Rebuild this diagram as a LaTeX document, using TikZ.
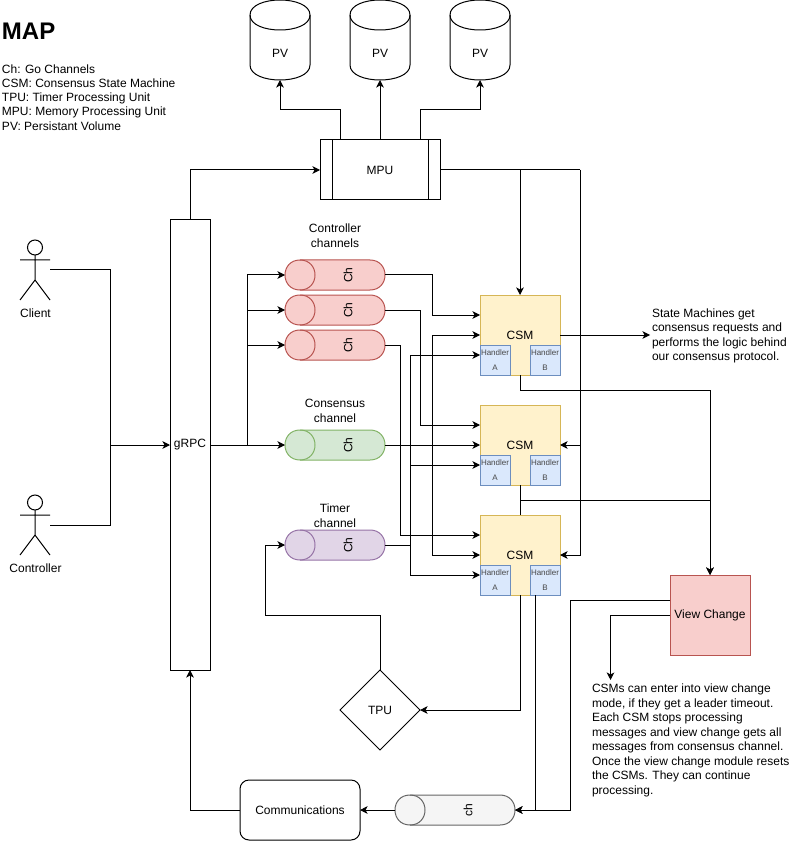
\documentclass[tikz,border=0pt]{standalone}
\usepackage{fontspec}
\setmainfont{Liberation Sans}
\usetikzlibrary{calc,arrows.meta,shapes.geometric}
\newdimen\pxu \pxu=0.75pt
\definecolor{redfill}{HTML}{F8CECC}\definecolor{redline}{HTML}{B85450}
\definecolor{greenfill}{HTML}{D5E8D4}\definecolor{greenline}{HTML}{82B366}
\definecolor{purplefill}{HTML}{E1D5E7}\definecolor{purpleline}{HTML}{9673A6}
\definecolor{greyfill}{HTML}{F5F5F5}\definecolor{greyline}{HTML}{666666}
\definecolor{csmfill}{HTML}{FFF2CC}\definecolor{csmline}{HTML}{D6B656}
\definecolor{hfill}{HTML}{DAE8FC}\definecolor{hline}{HTML}{6C8EBF}
\tikzset{
  every node/.style={inner sep=0pt,outer sep=0pt,font=\fontsize{9}{10.8}\selectfont},
  line/.style={line width=\pxu,draw=black},
  conn/.style={line,-{Stealth[length=5.6pt,width=5.6pt,inset=1.4pt]}},
  hollow/.style={rectangle},
  csmbox/.style={rectangle,line width=\pxu,draw=csmline,fill=csmfill,minimum width=80\pxu,minimum height=80\pxu},
  handlerbox/.style={rectangle,line width=\pxu,draw=hline,fill=hfill,minimum width=30\pxu,minimum height=30\pxu,
     align=center,text=black!72,font=\fontsize{6}{11.25}\selectfont},
  lbl/.style={align=center,font=\fontsize{9}{11.25}\selectfont},
  note/.style={align=left,font=\fontsize{9}{10.8}\selectfont},
}
\newcommand\pvcyl[2]{%
  \node[hollow,minimum width=60\pxu,minimum height=80\pxu] (#1) at (#2) {};
  \begin{scope}[shift={(#1.north west)}]
    \draw[line] (0,15) .. controls (0,-5) and (60,-5) .. (60,15) -- (60,65)
       .. controls (60,85) and (0,85) .. (0,65) -- cycle;
    \draw[line] (0,15) .. controls (0,35) and (60,35) .. (60,15);
  \end{scope}
  \node (#1t) at ($(#1.center)+(0,13)$) {PV};}
% name, centre, width, fill, stroke, text
\newcommand\chanpill[6]{%
  \node[hollow,minimum width=#3\pxu,minimum height=30\pxu] (#1) at (#2) {};
  \begin{scope}[shift={(#1.north west)}]
    \draw[line,draw=#5,fill=#4] (15,0) .. controls (-5,0) and (-5,30) .. (15,30) -- ({#3-15},30)
       .. controls ({#3+5},30) and ({#3+5},0) .. ({#3-15},0) -- cycle;
    \draw[line,draw=#5] (15,0) .. controls (35,0) and (35,30) .. (15,30);
  \end{scope}
  \node[rotate=90] (#1t) at ($(#1.center)+(13,0)$) {#6};}
% name, centre
\newcommand\actor[2]{%
  \node[hollow,minimum width=30\pxu,minimum height=60\pxu] (#1) at (#2) {};
  \begin{scope}[shift={(#1.north west)}]
    \draw[line] (15,7.5) circle (7.5);
    \draw[line] (15,15) -- (15,40) (0,20) -- (30,20) (0,60) -- (15,40) -- (30,60);
  \end{scope}}
% csm name, handler a, handler b, centre
\newcommand\csmset[4]{%
  \node[csmbox] (#1) at (#4) {CSM};
  \node[handlerbox] (#2) at ($(#1.south west)+(15,-15)$) {\raisebox{-1.2pt}{Handler}\\\raisebox{-1.2pt}{A}};
  \node[handlerbox] (#3) at ($(#1.south east)+(-15,-15)$) {\raisebox{-1.2pt}{Handler}\\\raisebox{-1.2pt}{B}};}
\begin{document}
\begin{tikzpicture}[x=\pxu,y=-\pxu]
\useasboundingbox (0,0) rectangle (800,841);

% legend
\node[anchor=west,font=\fontsize{18}{21}\bfseries\selectfont] (title) at (2,31) {MAP};
\node[anchor=west,align=left,font=\fontsize{9}{10.65}\selectfont] (legend) at (2,97.5)
  {Ch: Go Channels\\CSM: Consensus State Machine\\TPU: Timer Processing Unit\\MPU: Memory Processing Unit\\PV: Persistant Volume};

% persistent volumes
\pvcyl{pva}{280,40}
\pvcyl{pvb}{380,40}
\pvcyl{pvc}{480,40}

% MPU
\node[line,rectangle,minimum width=120\pxu,minimum height=60\pxu] (mpu) at (380,170) {MPU};
\draw[line] ($(mpu.north west)+(12,0)$) -- ($(mpu.south west)+(12,0)$);
\draw[line] ($(mpu.north east)+(-12,0)$) -- ($(mpu.south east)+(-12,0)$);

% gRPC
\node[line,rectangle,minimum width=40\pxu,minimum height=450\pxu] (grpc) at (190,445) {gRPC};

% actors
\actor{client}{35,270}
\node (clientl) at (35.5,313.5) {Client};
\actor{ctrl}{35,525}
\node (ctrll) at (35.5,568.5) {Controller};

% channel labels
\node[lbl] (lblctrl) at (335,235.5) {Controller\\channels};
\node[lbl] (lblcons) at (335,410.5) {Consensus\\channel};
\node[lbl] (lbltime) at (335,515.5) {Timer\\channel};

% channels
\chanpill{reda}{335,275}{100}{redfill}{redline}{Ch}
\chanpill{redb}{335,310}{100}{redfill}{redline}{Ch}
\chanpill{redc}{335,345}{100}{redfill}{redline}{Ch}
\chanpill{green}{335,445}{100}{greenfill}{greenline}{Ch}
\chanpill{purple}{335,545}{100}{purplefill}{purpleline}{Ch}
\chanpill{grey}{455,810}{120}{greyfill}{greyline}{ch}

% state machines
\csmset{csma}{haa}{hba}{520,335}
\csmset{csmb}{hab}{hbb}{520,445}
\csmset{csmc}{hac}{hbc}{520,555}

% other boxes
\node[rectangle,line width=\pxu,draw=redline,fill=redfill,minimum width=80\pxu,minimum height=80\pxu] (vc) at (710,615) {View Change};
\node[diamond,line,aspect=1,minimum width=80\pxu,minimum height=80\pxu] (tpu) at (380,710) {TPU};
\node[line,rectangle,rounded corners=9\pxu,minimum width=120\pxu,minimum height=60\pxu] (comm) at (300,810) {Communications};

% notes
\node[note,anchor=west,inner sep=2\pxu] (smnote) at (650,336)
  {State Machines get\\consensus requests and\\performs the logic behind\\our consensus protocol.};
\node[anchor=west,align=left,font=\fontsize{9}{10.9}\selectfont] (vcnote) at (592,740.5)
  {CSMs can enter into view change\\mode, if they get a leader timeout.\\Each CSM stops processing\\messages and view change gets all\\messages from consensus channel.\\Once the view change module resets\\the CSMs. They can continue\\processing.};

% helper coordinates
\coordinate (busg) at (247.5,445);
\coordinate (busc) at (110,445);
\coordinate (busa) at (432.5,445);
\coordinate (busb) at (420,310);
\coordinate (busd) at (400,345);
\coordinate (buse) at (410,545);
\coordinate (busr) at (580,170);
\coordinate (bust) at (265,615);
\coordinate (vcleft) at ($(vc.west)+(0,-15)$);
\coordinate (vcbus) at (570,600);
\coordinate (vcdrop) at (610.5,680);
\coordinate (hbout) at ($(hbc.south)+(-10,0)$);
\coordinate (aone) at ($(csma.west)+(0,-20)$);
\coordinate (atwo) at ($(csmb.west)+(0,-20)$);
\coordinate (athree) at ($(csmc.west)+(0,-20)$);
\coordinate (cone) at ($(csma.west)+(0,20)$);
\coordinate (ctwo) at ($(csmb.west)+(0,20)$);
\coordinate (cthree) at ($(csmc.west)+(0,20)$);

% MPU to volumes
\draw[conn] ($(mpu.north)+(-40,0)$) |- ($(pva.south)+(0,30)$) -- (pva.south);
\draw[conn] (mpu.north) -- (pvb.south);
\draw[conn] ($(mpu.north)+(40,0)$) |- ($(pvc.south)+(0,30)$) -- (pvc.south);

% actors to gRPC
\draw[line] (client.east) -| (busc);
\draw[line] (ctrl.east) -| (busc);
\draw[conn] (busc) -- (grpc.west);

% gRPC
\draw[conn] (grpc.north) |- (mpu.west);
\draw[conn] (grpc.east) -- (green.west);
\draw[conn] (busg) |- (reda.west);
\draw[conn] (busg) |- (redb.west);
\draw[conn] (busg) |- (redc.west);

% MPU to state machines
\draw[conn] (mpu.east) -| (csma.north);
\draw[line] (mpu.east) -- (busr);
\draw[conn] (busr) |- (csmb.east);
\draw[conn] (busr) |- (csmc.east);

% controller channels
\draw[conn] (reda.east) -- (busa |- reda.east) |- (aone);
\draw[conn] (redb.east) -- (busb) |- (atwo);
\draw[conn] (redc.east) -- (busd) |- (athree);

% consensus channel
\draw[conn] (green.east) -- (csmb.west);
\draw[conn] (busa) |- (csma.west);
\draw[conn] (busa) |- (csmc.west);

% timer channel
\draw[conn] (purple.east) -- (buse) |- (cone);
\draw[conn] (buse) |- (ctwo);
\draw[conn] (buse) |- (cthree);

% view change
\draw[conn] (csma.south) -- ++(0,15) -| (vc.north);
\draw[line] (csmb.south) -- (csmc.north);
\draw[conn] ($(csmc.north)+(0,-15)$) -| (vc.north);
\draw[conn] (vc.west) -| (vcdrop);
\draw[conn] (vcleft) -- (vcbus) |- (grey.east);

% state machine note
\draw[conn] (csma.east) -- (smnote.west |- csma.east);

% timer loop
\draw[conn] (csmc.south) |- (tpu.east);
\draw[conn] (tpu.north) |- (bust) |- (purple.west);

% output path
\draw[conn] (hbout) |- (grey.east);
\draw[conn] (grey.west) -- (comm.east);
\draw[conn] (comm.west) -| (grpc.south);
\end{tikzpicture}
\end{document}
